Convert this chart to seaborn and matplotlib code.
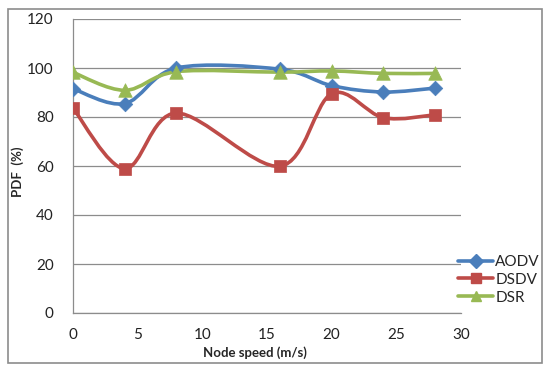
import numpy as np
import pandas as pd
import matplotlib
matplotlib.use('Agg')
import matplotlib.pyplot as plt
import seaborn as sns
from matplotlib.path import Path
from matplotlib.patches import PathPatch, Rectangle
from matplotlib.lines import Line2D

# dane
speed = [0, 4, 8, 16, 20, 24, 28]
aodv = [91.5, 85.5, 100, 99.5, 92.8, 90.2, 91.8]
dsdv = [83.6, 58.9, 81.6, 59.9, 89.5, 79.7, 80.9]
dsr = [98.2, 90.9, 98.5, 98.3, 98.8, 97.8, 97.8]

protocols = ['AODV', 'DSDV', 'DSR']
colors = {'AODV': '#4A7EBB', 'DSDV': '#BE4B48', 'DSR': '#98B954'}
markers = {'AODV': 'D', 'DSDV': 's', 'DSR': '^'}

df = pd.DataFrame({
    'speed': speed * 3,
    'pdf': aodv + dsdv + dsr,
    'protocol': ['AODV'] * 7 + ['DSDV'] * 7 + ['DSR'] * 7,
})

sns.set_style('white')
plt.rcParams['font.family'] = ['Lato', 'DejaVu Sans']


# krzywa wygladzona jak w Excelu (Bezier, Catmull-Rom)
def gladka(xs, ys):
    pts = np.column_stack([xs, ys]).astype(float)
    n = len(pts)
    verts = [pts[0]]
    codes = [Path.MOVETO]
    for i in range(n - 1):
        p0 = pts[i - 1] if i > 0 else pts[i]
        p1 = pts[i]
        p2 = pts[i + 1]
        p3 = pts[i + 2] if i + 2 < n else pts[i + 1]
        verts += [p1 + (p2 - p0) / 6, p2 - (p3 - p1) / 6, p2]
        codes += [Path.CURVE4] * 3
    return Path(verts, codes)


fig = plt.figure(figsize=(5.5, 3.72), dpi=100)
ax = fig.add_axes([73 / 550, 59 / 372, 388 / 550, 294 / 372])

for p in protocols:
    sub = df[df['protocol'] == p]
    ax.add_patch(PathPatch(gladka(sub['speed'], sub['pdf']), facecolor='none',
                           edgecolor=colors[p], lw=2.6, zorder=2))

sizes = {'AODV': 55, 'DSDV': 80, 'DSR': 95}
for p in protocols:
    sub = df[df['protocol'] == p]
    sns.scatterplot(data=sub, x='speed', y='pdf', color=colors[p], marker=markers[p],
                    s=sizes[p], edgecolor=colors[p], linewidth=0.5, ax=ax, zorder=3, legend=False)

ax.set_xlim(0, 30)
ax.set_ylim(0, 120)
ax.set_xticks(range(0, 31, 5))
ax.set_yticks(range(0, 121, 20))
ax.yaxis.grid(True, color='#8C8C8C', lw=0.9)
ax.set_axisbelow(True)
for s in ['top', 'right']:
    ax.spines[s].set_visible(False)
for s in ['left', 'bottom']:
    ax.spines[s].set_color('#8C8C8C')
    ax.spines[s].set_linewidth(0.9)
ax.tick_params(length=0, labelsize=11, colors='#222222')
ax.tick_params(axis='x', pad=11)
ax.tick_params(axis='y', pad=14)
ax.set_xlabel('Node speed (m/s)', fontsize=9.5, fontweight='bold', va='top')
ax.set_ylabel('PDF  (%)', fontsize=9.5, fontweight='bold')
ax.xaxis.set_label_coords(0.469, -0.114)
ax.yaxis.set_label_coords(-0.125, 0.48)

handles = [Line2D([0], [0], color=colors[p], lw=2.6, marker=markers[p], markersize=7) for p in protocols]
fig.legend(handles, protocols, loc='upper left', bbox_to_anchor=(458 / 550, (372 - 255) / 372),
           frameon=False, fontsize=11, handlelength=2.3, handletextpad=0.15,
           labelspacing=0.25, borderpad=0, borderaxespad=0)

# ramka wokol calego wykresu
fig.patches.append(Rectangle((8 / 550, 9 / 372), 534 / 550, 354 / 372, transform=fig.transFigure,
                             fill=False, edgecolor='#8C8C8C', lw=1.2))

fig.savefig('out.png', dpi=100)
